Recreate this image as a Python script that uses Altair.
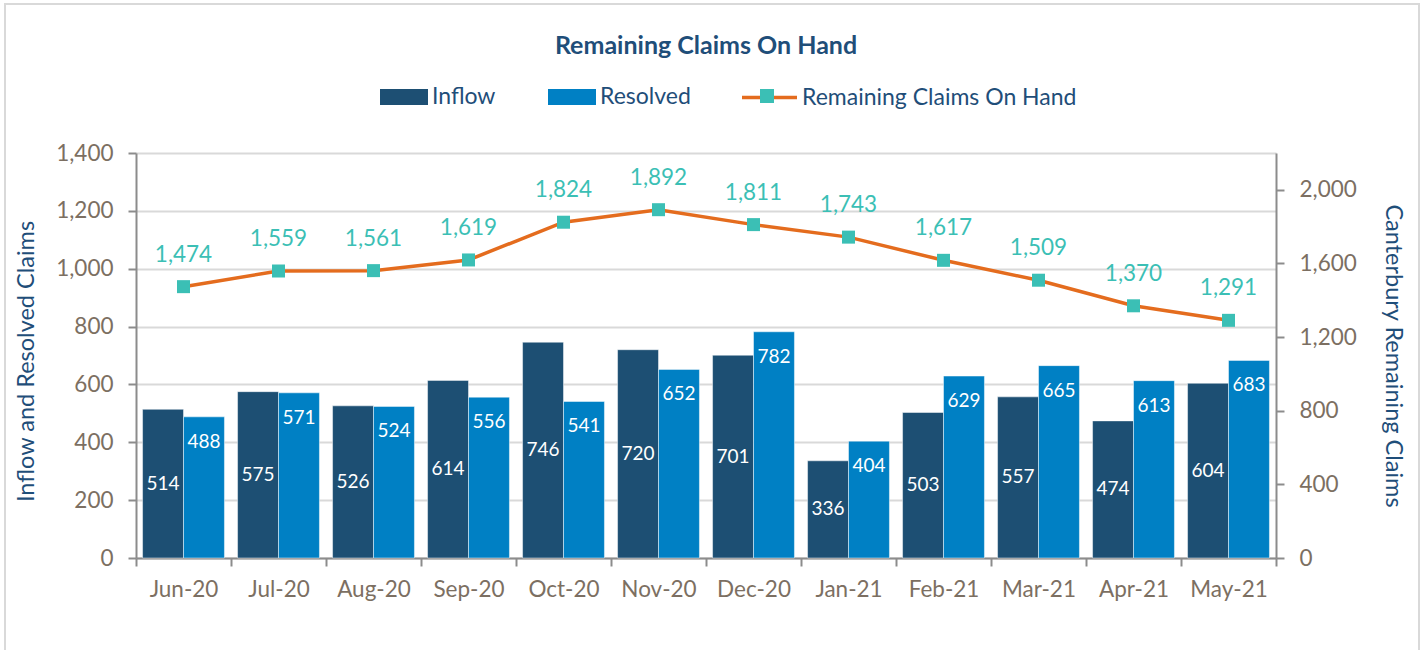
import altair as alt
import pandas as pd

months = ["Jun-20", "Jul-20", "Aug-20", "Sep-20", "Oct-20", "Nov-20",
          "Dec-20", "Jan-21", "Feb-21", "Mar-21", "Apr-21", "May-21"]
inflow = [514, 575, 526, 614, 746, 720, 701, 336, 503, 557, 474, 604]
resolved = [488, 571, 524, 556, 541, 652, 782, 404, 629, 665, 613, 683]
remaining = [1474, 1559, 1561, 1619, 1824, 1892, 1811, 1743, 1617, 1509, 1370, 1291]

bar_series = ["Inflow", "Resolved"]
line_name = "Remaining Claims On Hand"
marker_key = "marker"

C_INFLOW = "#1D4F73"
C_RESOLVED = "#0080C4"
C_LINE = "#E46C1E"
C_MARK = "#3BBFB5"
C_TITLE = "#1F4E79"
C_AXLAB = "#7C6F62"
FONT = "Lato"

bars_df = pd.DataFrame({
    "month": months * 2,
    "series": ["Inflow"] * len(months) + ["Resolved"] * len(months),
    "value": inflow + resolved,
})
bars_df["half"] = bars_df["value"] / 2
bars_df["label"] = bars_df["value"].map(lambda v: f"{v:,}")

line_df = pd.DataFrame({
    "month": months,
    "remaining": remaining,
    "label": [f"{v:,}" for v in remaining],
    "series": line_name,
    "series2": marker_key,
})

frame_df = pd.DataFrame({"k": [0]})

x_main = alt.X(
    "month:N", sort=months,
    scale=alt.Scale(paddingInner=0, paddingOuter=0),
    axis=alt.Axis(title=None, labelAngle=0, tickBand="extent", grid=False,
                  labelPadding=12),
)
x_plain = alt.X("month:N", sort=months)
xoff = alt.XOffset("series:N", scale=alt.Scale(domain=bar_series, paddingOuter=0.16, paddingInner=0))

left_title = "Inflow and Resolved Claims"
y_left_scale = alt.Scale(domain=[0, 1400], nice=False)
y_left_axis = alt.Axis(values=list(range(0, 1401, 200)), format=",.0f", title=left_title,
                       grid=True, labelPadding=15, titlePadding=17, titleY=208)

bars = alt.Chart(bars_df).mark_bar(stroke="#FFFFFF", strokeWidth=0.8, strokeOpacity=0.6).encode(
    x=x_main,
    xOffset=xoff,
    y=alt.Y("value:Q", scale=y_left_scale, axis=y_left_axis),
    color=alt.Color(
        "series:N",
        scale=alt.Scale(domain=bar_series, range=[C_INFLOW, C_RESOLVED]),
        legend=alt.Legend(
            title=None, orient="none", legendX=244, legendY=-80, direction="horizontal",
            symbolType="M-1,-0.33H1V0.33H-1Z", symbolSize=2304, symbolStrokeWidth=0,
            labelFont=FONT, labelFontSize=23, labelColor=C_TITLE, labelOffset=4,
            columnPadding=52, padding=0,
        ),
    ),
)

inflow_labels = alt.Chart(bars_df).transform_filter(
    alt.datum.series == "Inflow"
).mark_text(color="white", font=FONT, fontSize=19, baseline="middle").encode(
    x=x_plain,
    xOffset=xoff,
    y=alt.Y("half:Q", scale=y_left_scale, axis=y_left_axis),
    text="label:N",
)

resolved_labels = alt.Chart(bars_df).transform_filter(
    alt.datum.series == "Resolved"
).mark_text(color="white", font=FONT, fontSize=19, baseline="middle", dy=25).encode(
    x=x_plain,
    xOffset=xoff,
    y=alt.Y("value:Q", scale=y_left_scale, axis=y_left_axis),
    text="label:N",
)

right_title = "Canterbury Remaining Claims"
y_right_scale = alt.Scale(domain=[0, 2200], nice=False)
y_right_axis = alt.Axis(values=list(range(0, 2001, 400)), format=",.0f", title=right_title,
                        orient="right", grid=False, labelPadding=15, titlePadding=24)

line = alt.Chart(line_df).mark_line(strokeWidth=3.5).encode(
    x=x_plain,
    y=alt.Y("remaining:Q", scale=y_right_scale, axis=y_right_axis),
    stroke=alt.Stroke(
        "series:N",
        scale=alt.Scale(domain=[line_name], range=[C_LINE]),
        legend=alt.Legend(
            title=None, orient="none", legendX=604, legendY=-85,
            symbolType="stroke", symbolSize=3025, symbolStrokeWidth=3.5,
            labelFont=FONT, labelFontSize=23, labelColor=C_TITLE, labelOffset=3,
            labelLimit=500, padding=0,
        ),
    ),
)

points = alt.Chart(line_df).mark_point(filled=True, size=169, opacity=1, color=C_MARK).encode(
    x=x_plain,
    y=alt.Y("remaining:Q", scale=y_right_scale, axis=y_right_axis),
    shape=alt.Shape(
        "series2:N",
        scale=alt.Scale(domain=[marker_key], range=["square"]),
        legend=alt.Legend(
            title=None, orient="none", legendX=624, legendY=-64,
            symbolSize=196, symbolFillColor=C_MARK, symbolStrokeColor=C_MARK,
            symbolStrokeWidth=0, symbolOpacity=1,
            labelExpr="''", labelFontSize=1, padding=0,
        ),
    ),
)

line_labels = alt.Chart(line_df).mark_text(
    color=C_MARK, font=FONT, fontSize=22.5, baseline="middle", dy=-32
).encode(
    x=x_plain,
    y=alt.Y("remaining:Q", scale=y_right_scale, axis=y_right_axis),
    text="label:N",
)

frame = alt.Chart(frame_df).mark_rect(fill=None, stroke="#D9D9D9", strokeWidth=2).encode(
    x=alt.value(-131), x2=alt.value(1283), y=alt.value(-149), y2=alt.value(600)
)

left = alt.layer(bars, inflow_labels, resolved_labels)
right = alt.layer(line, points, line_labels)

chart = alt.layer(frame, left, right).resolve_scale(
    y="independent"
).properties(
    width=1140,
    height=405,
    title=alt.TitleParams(
        line_name, font=FONT, fontSize=25, fontWeight="bold", color=C_TITLE,
        anchor="middle", frame="group", offset=10, dy=66,
    ),
    padding={"left": 136, "top": 153, "right": 146, "bottom": 92},
    autosize=alt.AutoSizeParams(type="none"),
).configure_view(
    stroke=None
).configure_axis(
    labelFont=FONT, labelFontSize=22.5, labelColor=C_AXLAB,
    domainColor="#8C8C8C", domainWidth=2, tickColor="#8C8C8C", tickWidth=2, tickSize=8,
    gridColor="#D9D9D9", gridWidth=2,
    titleFont=FONT, titleFontSize=23.5, titleColor=C_TITLE, titleFontWeight="normal",
)

chart.save("out.html", embed_options={"renderer": "svg", "actions": False})
